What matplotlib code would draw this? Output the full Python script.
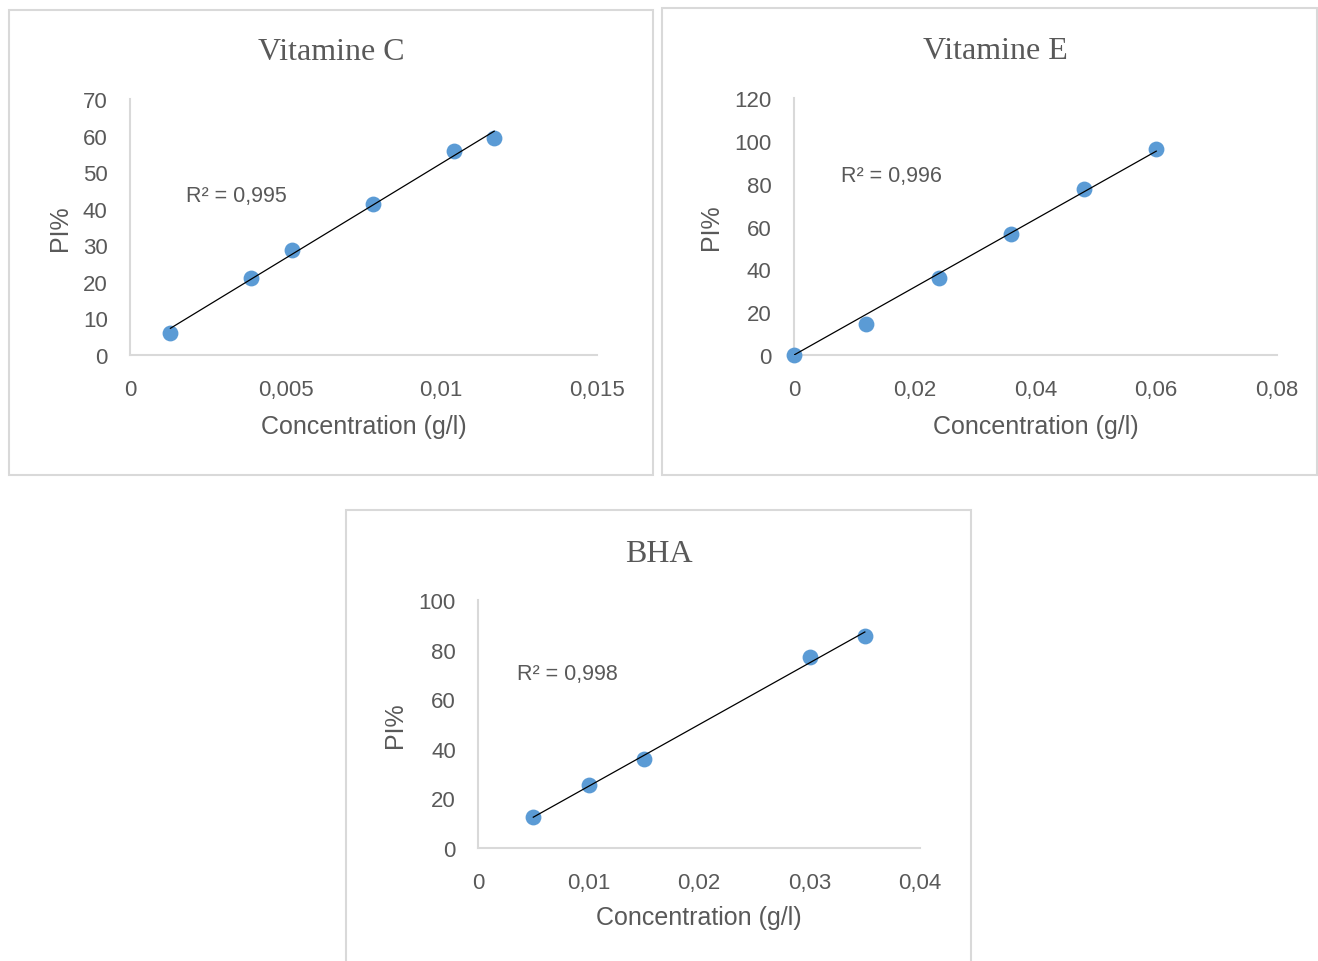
# Calibration curves of the three reference antioxidants (PI% vs concentration)

import numpy as np
import matplotlib.pyplot as plt
from matplotlib.patches import Rectangle

# Vitamine C
vitc_conc = [0.0013, 0.0039, 0.0052, 0.0078, 0.0104, 0.0117]
vitc_pi = [6.0, 21.1, 28.8, 41.3, 55.8, 59.3]

# Vitamine E
vite_conc = [0.0, 0.012, 0.024, 0.036, 0.048, 0.060]
vite_pi = [0.0, 14.5, 36.0, 56.5, 77.5, 96.2]

# BHA
bha_conc = [0.005, 0.010, 0.015, 0.030, 0.035]
bha_pi = [12.5, 25.4, 35.9, 77.0, 85.5]

titles = ["Vitamine C", "Vitamine E", "BHA"]
r2_labels = ["R² = 0,995", "R² = 0,996", "R² = 0,998"]
# Vitamine E trendline was fitted with intercept forced to zero
through_origin = [False, True, False]
x_ticks = [
    [0, 0.005, 0.01, 0.015],
    [0, 0.02, 0.04, 0.06, 0.08],
    [0, 0.01, 0.02, 0.03, 0.04],
]
x_ticklabels = [
    ["0", "0,005", "0,01", "0,015"],
    ["0", "0,02", "0,04", "0,06", "0,08"],
    ["0", "0,01", "0,02", "0,03", "0,04"],
]
y_ticks = [
    list(range(0, 71, 10)),
    list(range(0, 121, 20)),
    list(range(0, 101, 20)),
]

SANS = ["Liberation Sans", "DejaVu Sans"]
SERIF = ["Liberation Serif", "DejaVu Serif"]
GREY = "#595959"
LIGHT = "#D9D9D9"
BLUE = "#5B9BD5"

fig = plt.figure(figsize=(13.18, 9.62), dpi=100)

# Chart area frames (figure fractions)
frames = [
    (0.0068, 0.5052, 0.4886, 0.4834),
    (0.5023, 0.5052, 0.4970, 0.4854),
    (0.2625, -0.01, 0.4742, 0.4788),
]
for fx, fy, fw, fh in frames:
    fig.patches.append(Rectangle((fx, fy), fw, fh, transform=fig.transFigure,
                                 fill=False, edgecolor=LIGHT, linewidth=1.5))

# Plot areas
axes_pos = [
    (0.0986, 0.6299, 0.3543, 0.2661),
    (0.6024, 0.6299, 0.3665, 0.2672),
    (0.3627, 0.1175, 0.3354, 0.2578),
]
title_pos = [(0.2511, 0.945), (0.7549, 0.946), (0.5000, 0.424)]
r2_pos = [(0.0018, 43.5), (0.0078, 84.0), (0.0035, 70.5)]
ylabel_x = [-0.15, -0.172, -0.188]

series = [(vitc_conc, vitc_pi), (vite_conc, vite_pi), (bha_conc, bha_pi)]

for i, (conc, pi) in enumerate(series):
    ax = fig.add_axes(axes_pos[i])
    conc = np.array(conc)
    pi = np.array(pi)

    ax.scatter(conc, pi, s=130, color=BLUE, zorder=3, linewidths=0, clip_on=False)

    # linear trendline over the data range
    if through_origin[i]:
        slope = np.sum(conc * pi) / np.sum(conc ** 2)
        intercept = 0.0
    else:
        slope, intercept = np.polyfit(conc, pi, 1)
    xs = np.array([conc.min(), conc.max()])
    ax.plot(xs, slope * xs + intercept, color="black", linewidth=0.9, zorder=4)

    ax.set_xlim(x_ticks[i][0], x_ticks[i][-1])
    ax.set_ylim(y_ticks[i][0], y_ticks[i][-1])
    ax.set_xticks(x_ticks[i])
    ax.set_xticklabels(x_ticklabels[i])
    ax.set_yticks(y_ticks[i])

    for spine in ["top", "right"]:
        ax.spines[spine].set_visible(False)
    for spine in ["left", "bottom"]:
        ax.spines[spine].set_color(LIGHT)
        ax.spines[spine].set_linewidth(1.5)

    ax.tick_params(axis="both", length=0, colors=GREY, labelsize=16)
    ax.tick_params(axis="x", pad=17)
    ax.tick_params(axis="y", pad=16)
    for lbl in ax.get_xticklabels() + ax.get_yticklabels():
        lbl.set_family(SANS)
    ax.patch.set_visible(False)

    ax.set_xlabel("Concentration (g/l)", color=GREY, fontsize=18, family=SANS)
    ax.xaxis.set_label_coords(0.5, -0.277)
    ax.xaxis.label.set_verticalalignment("center")
    ax.set_ylabel("PI%", color=GREY, fontsize=18, family=SANS)
    ax.yaxis.set_label_coords(ylabel_x[i], 0.5)
    ax.yaxis.label.set_verticalalignment("center")

    ax.text(r2_pos[i][0], r2_pos[i][1], r2_labels[i], color=GREY,
            fontsize=15.5, family=SANS, va="center", ha="left")

    fig.text(title_pos[i][0], title_pos[i][1], titles[i], color=GREY,
             fontsize=23, family=SERIF, ha="center", va="center")

fig.savefig("out.png", dpi=100)
